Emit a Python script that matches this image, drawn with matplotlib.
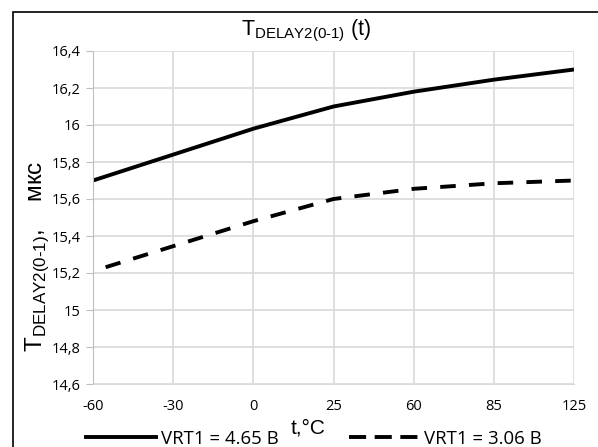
import matplotlib
matplotlib.use("Agg")
import matplotlib.pyplot as plt
from matplotlib.patches import Rectangle
from matplotlib.lines import Line2D
from matplotlib.ticker import FuncFormatter

# Данные
t_labels = ['-60', '-30', '0', '25', '60', '85', '125']
t_delay_465 = [15.70, 15.84, 15.98, 16.10, 16.18, 16.245, 16.30]
t_delay_306 = [15.21, 15.345, 15.48, 15.60, 15.655, 15.685, 15.70]

plt.rcParams['font.family'] = ['Open Sans', 'DejaVu Sans']
plt.rcParams['mathtext.fontset'] = 'custom'
plt.rcParams['mathtext.rm'] = 'Liberation Sans'

fig = plt.figure(figsize=(5.98, 4.47), dpi=100)
ax = fig.add_axes([93 / 598, 1 - 384 / 447, (574 - 93) / 598, (384 - 51) / 447])

# рамка вокруг диаграммы
fig.patches.append(Rectangle((13 / 598, -0.05), 1.0, 1 - 12 / 447 + 0.05,
                             transform=fig.transFigure, fill=False,
                             edgecolor='black', linewidth=1.2, zorder=0))

x = list(range(len(t_labels)))
ax.plot(x, t_delay_465, color='black', linewidth=2.8, solid_capstyle='butt')
ax.plot(x, t_delay_306, color='black', linewidth=2.8,
        linestyle=(4.0, (4.0, 3.4)), dash_capstyle='butt')

ax.set_xlim(0, 6)
ax.set_ylim(14.6, 16.4)
ax.set_xticks(x)
ax.set_xticklabels(t_labels)
ax.set_yticks([14.6 + 0.2 * i for i in range(10)])
ax.yaxis.set_major_formatter(FuncFormatter(
    lambda v, p: ('%.1f' % v).rstrip('0').rstrip('.').replace('.', ',')))

ax.grid(True, color='#d9d9d9', linewidth=1.2)
ax.set_axisbelow(True)
for s in ['top', 'right']:
    ax.spines[s].set_visible(False)
ax.spines['left'].set_color('#bfbfbf')
ax.spines['bottom'].set_color('#d9d9d9')
ax.tick_params(axis='y', length=5, color='#bfbfbf', labelsize=10.5, pad=4)
ax.tick_params(axis='x', length=0, labelsize=10.5, pad=11)

sub = '$_{\\mathrm{DELAY2(0\u20101)}}$'
fig.text(306 / 598, 1 - 31 / 447, 'T' + sub + ' (t)',
         ha='center', va='center', fontsize=15.5, family='Liberation Sans')
ax.set_ylabel('T' + sub + ',    мкс', fontsize=17.5,
              family='Liberation Sans')
ax.yaxis.set_label_coords((51 - 93) / 481, (384 - 256) / 333)
fig.text(308 / 598, 1 - 428 / 447, 't,°C', ha='center', va='center',
         fontsize=15, family='Liberation Sans')

handles = [Line2D([], [], color='black', linewidth=2.8),
           Line2D([], [], color='black', linewidth=2.8,
                  linestyle=(0, (4.4, 2.2)))]
ax.legend(handles, ['VRT1 = 4.65 В', 'VRT1 = 3.06 В'],
          loc='center', bbox_to_anchor=(314 / 598, 1 - 438.5 / 447),
          bbox_transform=fig.transFigure, ncol=2, frameon=False,
          handlelength=3.75, handletextpad=0.3, columnspacing=3.75,
          prop={'family': 'Open Sans', 'size': 13.4})

fig.savefig('out.png', dpi=100)
